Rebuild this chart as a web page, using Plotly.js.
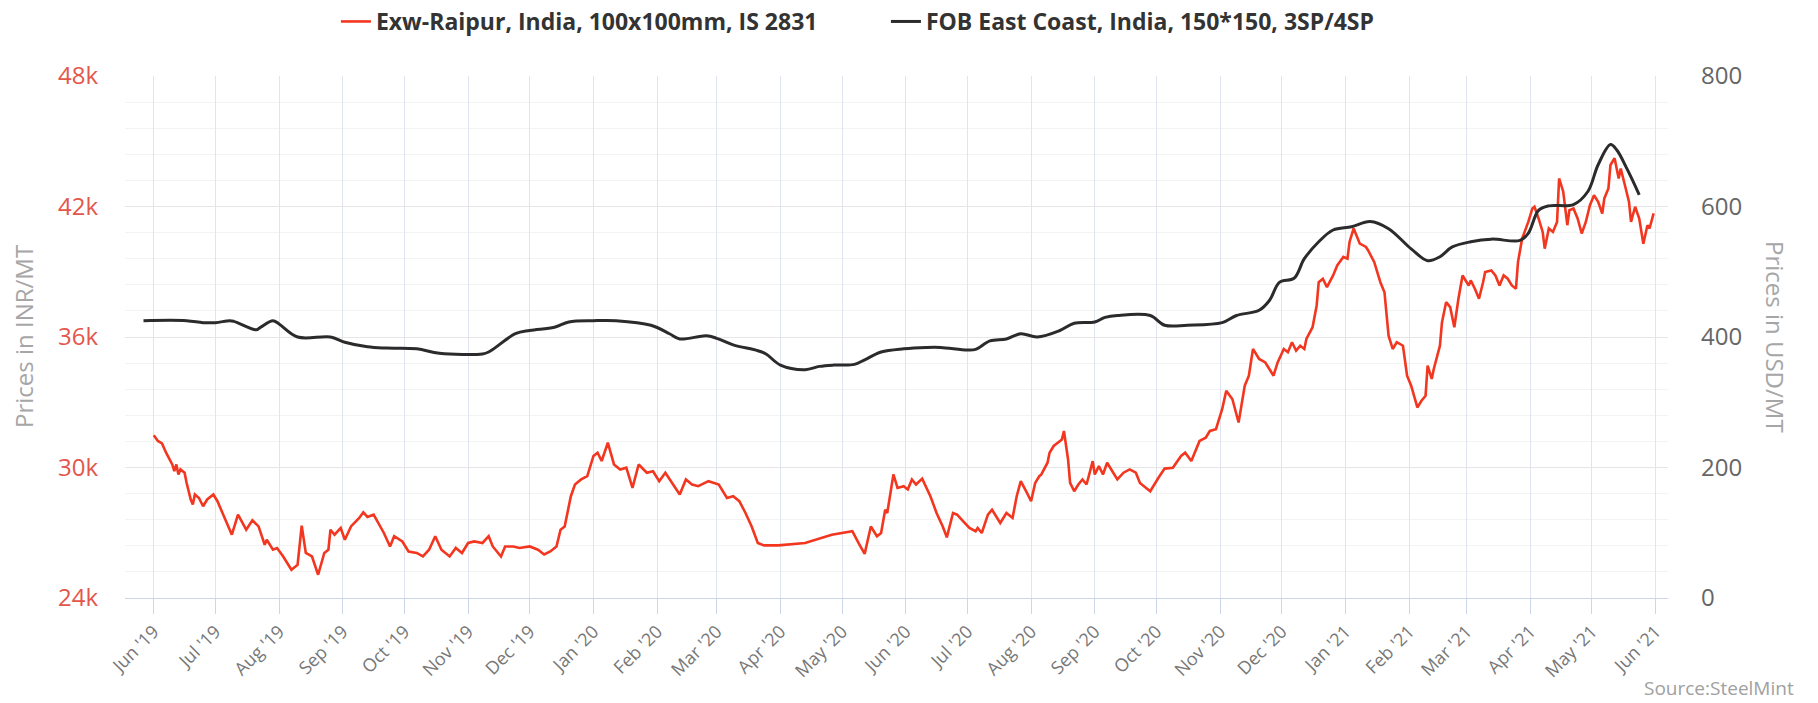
<!DOCTYPE html>
<html>
<head>
<meta charset="utf-8">
<script src="https://cdn.plot.ly/plotly-3.0.1.min.js"></script>
<style>
html,body{margin:0;padding:0;background:#fff;}
#chart{width:1818px;height:703px;}
</style>
</head>
<body>
<div id="chart"></div>
<script>
// Exw-Raipur, India, 100x100mm, IS 2831 (INR/MT)
const redDates = [
"2019-06-01","2019-06-03","2019-06-05","2019-06-07","2019-06-10","2019-06-11","2019-06-12","2019-06-13","2019-06-14","2019-06-16",
"2019-06-17","2019-06-19","2019-06-20","2019-06-21","2019-06-23","2019-06-25","2019-06-27","2019-06-30","2019-07-02","2019-07-06",
"2019-07-09","2019-07-12","2019-07-16","2019-07-19","2019-07-22","2019-07-25","2019-07-26","2019-07-29","2019-07-31","2019-08-03",
"2019-08-07","2019-08-09","2019-08-10","2019-08-12","2019-08-14","2019-08-17","2019-08-20","2019-08-23","2019-08-25","2019-08-26",
"2019-08-28","2019-08-31","2019-09-02","2019-09-05","2019-09-08","2019-09-09","2019-09-11","2019-09-13","2019-09-16","2019-09-19",
"2019-09-21","2019-09-24","2019-09-26","2019-09-30","2019-10-03","2019-10-07","2019-10-10","2019-10-13","2019-10-16","2019-10-19",
"2019-10-23","2019-10-26","2019-10-29","2019-11-01","2019-11-04","2019-11-08","2019-11-11","2019-11-13","2019-11-17","2019-11-19",
"2019-11-23","2019-11-26","2019-12-01","2019-12-05","2019-12-08","2019-12-11","2019-12-14","2019-12-16","2019-12-18","2019-12-21",
"2019-12-23","2019-12-26","2019-12-29","2020-01-01","2020-01-03","2020-01-05","2020-01-08","2020-01-11","2020-01-14","2020-01-17",
"2020-01-20","2020-01-23","2020-01-27","2020-01-30","2020-02-02","2020-02-05","2020-02-09","2020-02-12","2020-02-15","2020-02-18",
"2020-02-21","2020-02-26","2020-03-02","2020-03-06","2020-03-09","2020-03-12","2020-03-15","2020-03-18","2020-03-21","2020-03-24",
"2020-03-31","2020-04-13","2020-04-26","2020-05-06","2020-05-09","2020-05-12","2020-05-15","2020-05-18","2020-05-20","2020-05-22",
"2020-05-23","2020-05-26","2020-05-28","2020-05-31","2020-06-02","2020-06-04","2020-06-06","2020-06-09","2020-06-13","2020-06-16",
"2020-06-19","2020-06-21","2020-06-24","2020-06-26","2020-06-29","2020-07-02","2020-07-05","2020-07-06","2020-07-08","2020-07-11",
"2020-07-13","2020-07-15","2020-07-17","2020-07-20","2020-07-23","2020-07-25","2020-07-27","2020-07-30","2020-08-01","2020-08-03",
"2020-08-05","2020-08-06","2020-08-09","2020-08-10","2020-08-12","2020-08-14","2020-08-16","2020-08-17","2020-08-19","2020-08-20",
"2020-08-22","2020-08-24","2020-08-26","2020-08-28","2020-08-31","2020-09-01","2020-09-03","2020-09-05","2020-09-07","2020-09-10",
"2020-09-12","2020-09-15","2020-09-18","2020-09-21","2020-09-23","2020-09-26","2020-09-28","2020-10-02","2020-10-05","2020-10-09",
"2020-10-13","2020-10-15","2020-10-18","2020-10-22","2020-10-25","2020-10-27","2020-10-30","2020-11-02","2020-11-04","2020-11-07",
"2020-11-10","2020-11-13","2020-11-15","2020-11-17","2020-11-20","2020-11-23","2020-11-27","2020-11-29","2020-12-02","2020-12-04",
"2020-12-06","2020-12-08","2020-12-10","2020-12-12","2020-12-13","2020-12-16","2020-12-18","2020-12-19","2020-12-21","2020-12-23",
"2020-12-26","2020-12-28","2020-12-31","2021-01-02","2021-01-03","2021-01-05","2021-01-07","2021-01-08","2021-01-11","2021-01-12",
"2021-01-15","2021-01-18","2021-01-20","2021-01-22","2021-01-24","2021-01-26","2021-01-29","2021-01-31","2021-02-02","2021-02-03",
"2021-02-05","2021-02-07","2021-02-09","2021-02-10","2021-02-12","2021-02-13","2021-02-16","2021-02-17","2021-02-19","2021-02-21",
"2021-02-23","2021-02-25","2021-02-27","2021-03-02","2021-03-03","2021-03-05","2021-03-07","2021-03-09","2021-03-10","2021-03-13",
"2021-03-15","2021-03-17","2021-03-19","2021-03-21","2021-03-23","2021-03-25","2021-03-26","2021-03-28","2021-03-31","2021-04-02",
"2021-04-03","2021-04-05","2021-04-07","2021-04-08","2021-04-10","2021-04-12","2021-04-14","2021-04-15","2021-04-17","2021-04-19",
"2021-04-20","2021-04-22","2021-04-24","2021-04-26","2021-04-28","2021-04-30","2021-05-02","2021-05-04","2021-05-06","2021-05-07",
"2021-05-09","2021-05-10","2021-05-12","2021-05-14","2021-05-15","2021-05-17","2021-05-19","2021-05-20","2021-05-22","2021-05-24",
"2021-05-26","2021-05-28","2021-05-29","2021-05-31"
];
const redValues = [
31480,31220,31110,30680,30140,29830,30140,29680,29910,29760,
29290,28530,28300,28760,28600,28220,28530,28760,28450,27600,
26910,27830,27140,27570,27290,26450,26680,26220,26300,25910,
25300,25450,25530,27330,26070,25910,25070,26070,26220,27140,
26910,27220,26680,27290,27600,27680,27940,27730,27830,27290,
26990,26370,26840,26600,26140,26070,25910,26220,26840,26220,
25910,26300,26070,26530,26600,26530,26840,26370,25910,26370,
26370,26300,26370,26220,26000,26140,26370,27140,27290,28680,
29220,29450,29600,30530,30680,30300,31140,30140,29910,29990,
29060,30140,29760,29830,29370,29760,29220,28760,29450,29220,
29140,29370,29220,28600,28680,28450,27910,27290,26530,26420,
26420,26530,26910,27070,26530,26030,27290,26840,26990,28060,
27910,29680,29060,29140,28990,29450,29220,29490,28680,27910,
27290,26790,27910,27830,27520,27220,27070,27220,26990,27830,
28060,27760,27450,27910,27680,28680,29370,28830,28450,29290,
29600,29680,30220,30680,30990,31140,31290,31680,30370,29290,
28910,29220,29450,29220,30290,29680,30060,29680,30220,29760,
29450,29760,29910,29760,29290,29060,28910,29530,29950,29990,
30530,30680,30300,31220,31370,31680,31760,32680,33530,33140,
32070,33760,34220,35450,34990,34830,34220,34830,35450,35300,
35760,35370,35600,35450,35910,36450,37450,38520,38680,38290,
38830,39290,39680,39600,40370,40990,40520,40290,40140,39990,
39450,38520,38060,36060,35450,35760,35600,34220,33760,33450,
32760,33070,33300,34680,34070,34530,35600,36680,37600,37370,
36450,37760,38830,38370,38600,38220,37760,38520,38990,39060,
38830,38370,38830,38680,38370,38220,39450,40520,41290,41910,
41990,41450,40830,40060,40990,40830,41290,43290,42680,41140,
41830,41910,41450,40760,41290,42060,42520,42220,41680,42370,
42830,43910,44220,43290,43750,42990,42220,41290,41990,41450,
40290,41140,40990,41680
];

// FOB East Coast, India, 150*150, 3SP/4SP (USD/MT)
const blackDates = [
"2019-05-27","2019-06-17","2019-06-25","2019-07-01","2019-07-08","2019-07-10","2019-07-21","2019-07-23","2019-07-29","2019-08-01",
"2019-08-10","2019-08-26","2019-09-02","2019-09-13","2019-09-22","2019-10-07","2019-10-18","2019-11-08","2019-11-11","2019-11-24",
"2019-12-01","2019-12-13","2019-12-20","2020-01-01","2020-01-12","2020-01-29","2020-02-07","2020-02-12","2020-02-25","2020-03-01",
"2020-03-09","2020-03-21","2020-03-25","2020-04-01","2020-04-13","2020-04-20","2020-04-27","2020-05-07","2020-05-12","2020-05-20",
"2020-05-31","2020-06-11","2020-06-18","2020-07-01","2020-07-05","2020-07-12","2020-07-20","2020-07-27","2020-08-04","2020-08-15",
"2020-08-22","2020-09-01","2020-09-06","2020-09-12","2020-09-28","2020-10-05","2020-10-16","2020-11-02","2020-11-09","2020-11-20",
"2020-11-25","2020-11-30","2020-12-07","2020-12-12","2020-12-19","2020-12-26","2021-01-04","2021-01-13","2021-01-22","2021-02-02",
"2021-02-10","2021-02-16","2021-02-22","2021-03-03","2021-03-13","2021-03-27","2021-03-31","2021-04-05","2021-04-10","2021-04-22",
"2021-04-29","2021-05-04","2021-05-10","2021-05-13","2021-05-18","2021-05-24"
];
const blackValues = [
425,425,422,422,425,424,411,415,425,420,
400,400,392,385,383,382,375,374,377,405,
410,415,423,425,425,418,405,397,402,398,
388,379,374,357,350,355,357,358,365,377,
382,384,384,380,381,394,397,405,400,410,
421,423,430,433,433,418,418,422,433,441,
456,484,490,520,546,564,569,577,566,535,
517,523,538,546,550,548,559,594,601,603,
623,664,695,687,658,618
];

const leftTickVals = [24000,30000,36000,42000,48000];
const leftTickText = ["24k","30k","36k","42k","48k"];
const rightTickVals = [0,200,400,600,800];

const FONT = "'Open Sans', 'Noto Sans', sans-serif";

const traces = [
  {
    x: redDates, y: redValues, type: 'scatter', mode: 'lines',
    name: 'Exw-Raipur, India, 100x100mm, IS 2831',
    line: {color: '#f2361f', width: 2.6, shape: 'linear'},
    yaxis: 'y', hoverinfo: 'x+y'
  },
  {
    x: blackDates, y: blackValues, type: 'scatter', mode: 'lines',
    name: 'FOB East Coast, India, 150*150, 3SP/4SP',
    line: {color: '#2b2b2b', width: 3, shape: 'spline', smoothing: 1},
    yaxis: 'y2', hoverinfo: 'x+y'
  }
];

const layout = {
  width: 1818, height: 703,
  margin: {l: 125, r: 150, t: 76, b: 105},
  paper_bgcolor: '#ffffff', plot_bgcolor: '#ffffff',
  font: {family: FONT, color: '#666666'},
  showlegend: true,
  legend: {
    orientation: 'h', x: 0.1367, xanchor: 'left', y: 1, yref: 'container', yanchor: 'top',
    font: {family: FONT, size: 23, color: '#333333', weight: 700},
    itemwidth: 30, entrywidth: 505, entrywidthmode: 'pixels',
    bgcolor: 'rgba(0,0,0,0)', traceorder: 'normal'
  },
  xaxis: {
    type: 'date',
    range: ['2019-05-18', '2021-06-07'],
    tick0: '2019-06-01', dtick: 'M1', tickformat: "%b '%y",
    tickangle: -45,
    tickfont: {family: FONT, size: 18, color: '#777777'},
    showgrid: true, gridcolor: '#e0e4ee', gridwidth: 1,
    ticks: 'outside', ticklen: 15, tickcolor: '#ccd6eb', tickwidth: 1,
    showline: true, linecolor: '#ccd6eb', linewidth: 1,
    zeroline: false, fixedrange: true
  },
  yaxis: {
    range: [24000, 48000],
    tickvals: leftTickVals, ticktext: leftTickText,
    tickfont: {family: FONT, size: 24, color: '#e4564b'},
    showgrid: true, gridcolor: '#e6e6e6', gridwidth: 1,
    minor: {dtick: 1200, tick0: 24000, showgrid: true, gridcolor: '#f3f3f3', gridwidth: 1},
    ticks: '', ticklabelstandoff: 26,
    zeroline: false, showline: false, fixedrange: true
  },
  yaxis2: {
    range: [0, 800],
    overlaying: 'y', side: 'right',
    tickvals: rightTickVals,
    tickfont: {family: FONT, size: 24, color: '#666666'},
    showgrid: false, ticks: '', ticklabelstandoff: 32,
    zeroline: false, showline: false, fixedrange: true
  },
  annotations: [
    {
      text: 'Prices in INR/MT', xref: 'paper', yref: 'paper', x: 0, y: 0.5,
      xanchor: 'center', yanchor: 'middle', xshift: -102, textangle: -90,
      showarrow: false, font: {family: FONT, size: 24, color: '#a6a6a6'}
    },
    {
      text: 'Prices in USD/MT', xref: 'paper', yref: 'paper', x: 1, y: 0.5,
      xanchor: 'center', yanchor: 'middle', xshift: 108, textangle: 90,
      showarrow: false, font: {family: FONT, size: 24, color: '#a6a6a6'}
    },
    {
      text: 'Source:SteelMint', xref: 'paper', yref: 'paper', x: 1, y: 0,
      xanchor: 'right', yanchor: 'middle', xshift: 128, yshift: -90,
      showarrow: false, font: {family: FONT, size: 19, color: '#a0a0a0'}
    }
  ]
};

Plotly.newPlot('chart', traces, layout, {displayModeBar: false, staticPlot: true});
</script>
</body>
</html>
